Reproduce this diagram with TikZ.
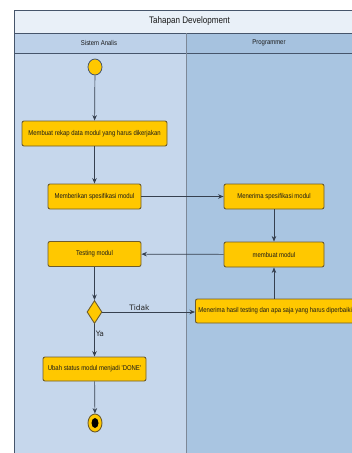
\documentclass[tikz,border=0pt]{standalone}
\usepackage{fontspec}
\setmainfont{Liberation Sans}
\newfontfamily\narrowsans[FakeStretch=0.85]{Liberation Sans}
\newfontfamily\labelsans{DejaVu Sans}
\usetikzlibrary{shapes.geometric,arrows.meta}

\definecolor{laneA}{HTML}{C6D7EC}
\definecolor{laneB}{HTML}{A9C5E1}
\definecolor{titlebg}{HTML}{E9F0F8}
\definecolor{hdrA}{HTML}{BDD1E9}
\definecolor{hdrB}{HTML}{A6C2DF}
\definecolor{framec}{HTML}{46556B}
\definecolor{actfill}{HTML}{FFC800}
\definecolor{actline}{HTML}{6E5C2C}
\definecolor{flowc}{HTML}{36404F}

\begin{document}
\begin{tikzpicture}[x=1pt,y=-1pt,
  action/.style={draw=actline, line width=0.9pt, fill=actfill, rounded corners=2pt,
    minimum height=25pt, inner sep=3pt, text=black!90, font=\narrowsans\fontsize{7}{8}\selectfont},
  flow/.style={draw=flowc, line width=0.7pt, -{Stealth[length=5.5pt,width=4.5pt]}},
  lanetext/.style={font=\narrowsans\fontsize{7}{8}\selectfont, text=black!90},
  guard/.style={font=\labelsans\fontsize{7.5}{9}\selectfont, text=black!85, inner sep=1pt},
]
\useasboundingbox (0,0) rectangle (352,453);
\begin{scope}
\clip (0,0) rectangle (352,453);
% swimlane background
\fill[white] (0,0) rectangle (352,453);
\fill[laneA] (14,53) rectangle (186,460);
\fill[laneB] (186,53) rectangle (365,460);
\fill[titlebg] (14,10) rectangle (365,33);
\fill[hdrA] (14,33) rectangle (186,53);
\fill[hdrB] (186,33) rectangle (365,53);
\draw[framec, line width=0.8pt] (14,460) -- (14,10) -- (365,10);
\draw[framec, line width=0.8pt] (14,33) -- (365,33);
\draw[framec, line width=0.8pt] (14,53) -- (365,53);
\draw[framec!70, line width=0.7pt] (186,33) -- (186,460);

% headers
\node[font=\narrowsans\fontsize{9.5}{11}\selectfont, text=black!90] (title) at (189.5,21.5) {Tahapan Development};
\node[lanetext] (laneSA) at (99,43) {Sistem Analis};
\node[lanetext] (lanePR) at (269,43) {Programmer};

% activities
\node[ellipse, draw=framec, line width=0.8pt, fill=actfill, minimum width=14pt, minimum height=16pt, inner sep=0pt] (start) at (95,67) {};
\node[action, minimum width=145pt] (rekap) at (94.5,133.5) {Membuat rekap data modul yang harus dikerjakan};
\node[action, minimum width=93pt] (beri) at (94.5,196.5) {Memberikan spesifikasi modul};
\node[action, minimum width=100pt] (terima) at (274,196.5) {Menerima spesifikasi modul};
\node[action, minimum width=100pt] (buat) at (274,254.5) {membuat modul};
\node[action, minimum width=93pt] (testing) at (94.5,254) {Testing modul};
\node[diamond, draw=actline, line width=0.9pt, fill=actfill, minimum width=15pt, minimum height=23pt, inner sep=0pt] (dec) at (94.5,312) {};
\node[action, anchor=west, minimum height=24pt] (hasil) at (195,311) {Menerima hasil testing dan apa saja yang harus diperbaiki};
\node[action, minimum width=103pt, minimum height=24pt] (ubah) at (94.5,369) {Ubah status modul menjadi 'DONE'};
\node[ellipse, draw=actline, line width=0.9pt, fill=actfill, minimum width=14pt, minimum height=18pt, inner sep=0pt] (end) at (95,423) {};
\node[ellipse, fill=black, minimum width=7pt, minimum height=10pt, inner sep=0pt] (endc) at (end.center) {};

% control flow
\draw[flow] (start) -- (rekap);
\draw[flow] (rekap) -- (beri);
\draw[flow] (beri) -- (terima);
\draw[flow] (terima) -- (buat);
\draw[flow] (buat) -- (testing);
\draw[flow] (testing) -- (dec);
\draw[flow] (dec.east) -- node[guard, above, pos=0.4] {Tidak} (dec.east -| hasil.west);
\draw[flow] (buat.south |- hasil.north) -- (buat.south);
\draw[flow] (dec) -- node[guard, right, pos=0.3] {Ya} (ubah);
\draw[flow] (ubah) -- (end);
\end{scope}
\end{tikzpicture}
\end{document}
